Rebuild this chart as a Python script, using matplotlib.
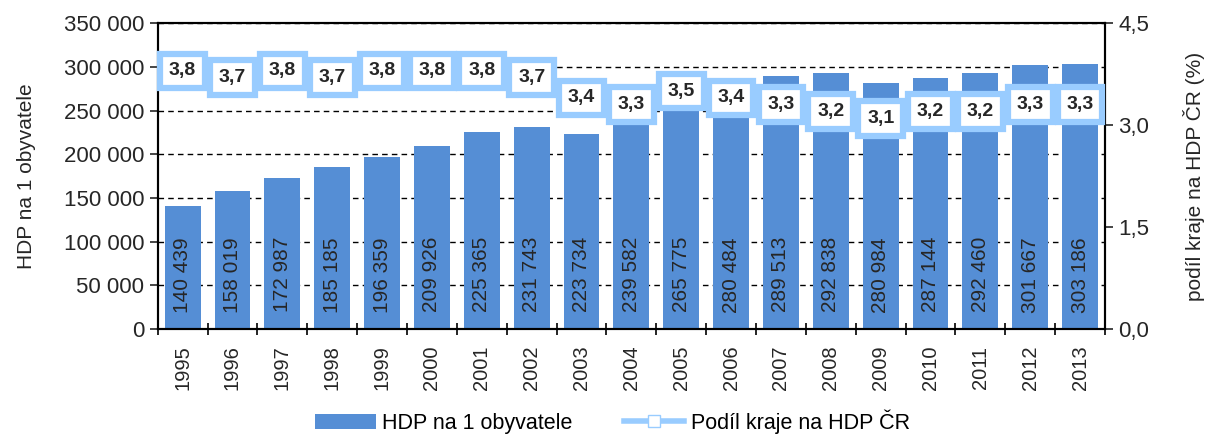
import numpy as np
import matplotlib.pyplot as plt
from matplotlib.lines import Line2D
from matplotlib.patches import Patch

plt.rcParams["font.family"] = ["Liberation Sans", "DejaVu Sans"]

years = [str(y) for y in range(1995, 2014)]
hdp = [140439, 158019, 172987, 185185, 196359, 209926, 225365, 231743, 223734,
       239582, 265775, 280484, 289513, 292838, 280984, 287144, 292460, 301667, 303186]
podil = [3.8, 3.7, 3.8, 3.7, 3.8, 3.8, 3.8, 3.7, 3.4, 3.3, 3.5, 3.4, 3.3, 3.2,
         3.1, 3.2, 3.2, 3.3, 3.3]

bar_color = "#558ED5"
line_color = "#99CCFF"
txt = "#262626"


def fmt_thousands(v):
    return f"{v:,.0f}".replace(",", " ")


fig = plt.figure(figsize=(12.13, 4.38), dpi=100)
ax = fig.add_axes([0.130, 0.249, 0.781, 0.698])
x = np.arange(len(years))

ax.bar(x, hdp, width=0.72, color=bar_color, zorder=2)
for xi, v in zip(x, hdp):
    ax.text(xi, 62000, fmt_thousands(v), rotation=90, ha="center", va="center",
            fontsize=15, color=txt, zorder=3)

ax.set_ylim(0, 350000)
ax.set_xlim(-0.5, len(years) - 0.5)
ax.set_yticks(np.arange(0, 350001, 50000))
ax.set_yticklabels([fmt_thousands(v) for v in np.arange(0, 350001, 50000)])
ax.set_xticks(x)
ax.set_xticklabels(years, rotation=90)
ax.set_xticks(np.arange(-0.5, len(years)), minor=True)
ax.tick_params(axis="x", which="major", length=0, pad=12, labelsize=14.5, colors=txt)
ax.tick_params(axis="x", which="minor", length=8, direction="inout", width=1.2)
ax.tick_params(axis="y", length=6, width=1.2, labelsize=16, colors=txt)
ax.yaxis.grid(True, linestyle=(0, (4, 3)), color="black", linewidth=1, zorder=1)
ax.set_axisbelow(True)
ax.set_ylabel("HDP na 1 obyvatele", fontsize=15, color=txt, labelpad=20)
for s in ax.spines.values():
    s.set_linewidth(1.5)
    s.set_color("black")

ax2 = ax.twinx()
ax2.plot(x, podil, color=line_color, linewidth=4, zorder=3)
for xi, v in zip(x, podil):
    ax2.text(xi, v, f"{v:.1f}".replace(".", ","), ha="center", va="center",
             fontsize=14, fontweight="bold", color=txt, zorder=4,
             bbox=dict(boxstyle="square,pad=0.45", fc="white", ec=line_color, lw=4.5))
ax2.set_ylim(0, 4.5)
ax2.set_yticks([0, 1.5, 3.0, 4.5])
ax2.set_yticklabels(["0,0", "1,5", "3,0", "4,5"])
ax2.tick_params(axis="y", length=6, width=1.2, labelsize=16, colors=txt)
ax2.set_ylabel("podíl kraje na HDP ČR (%)", fontsize=15, color=txt, labelpad=24)
for s in ax2.spines.values():
    s.set_linewidth(1.5)

handles = [Patch(facecolor=bar_color, label="HDP na 1 obyvatele"),
           Line2D([], [], color=line_color, lw=4, marker="s", markersize=9,
                  markerfacecolor="white", markeredgecolor=line_color,
                  label="Podíl kraje na HDP ČR")]
fig.legend(handles=handles, loc="lower center", bbox_to_anchor=(0.505, -0.035),
           ncol=2, frameon=False, fontsize=15.5, handlelength=2.8,
           columnspacing=2.4, handletextpad=0.3)

fig.savefig("out.png", dpi=100)
